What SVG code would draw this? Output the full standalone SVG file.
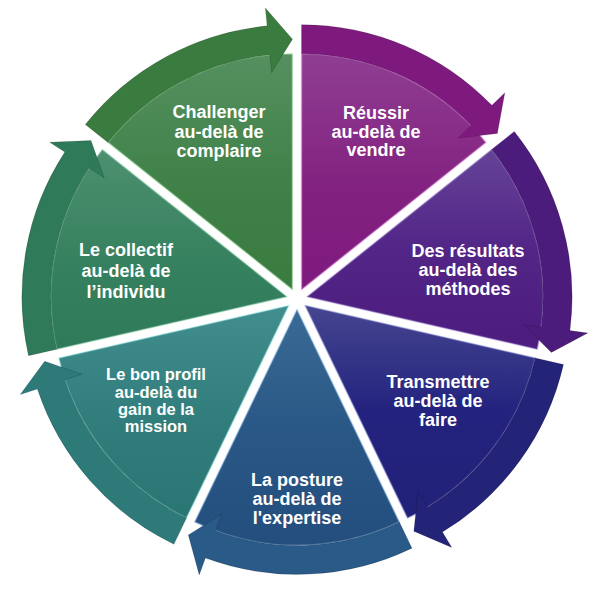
<svg xmlns="http://www.w3.org/2000/svg" width="600" height="600" viewBox="0 0 600 600">
<style>
.lbl{font-family:"Liberation Sans",Arial,sans-serif;font-weight:bold;font-size:18px;fill:#ffffff;text-anchor:middle}
.sm{font-size:16.5px}
.band{stroke:#000000;stroke-opacity:0.18;stroke-width:0.8;stroke-linejoin:miter}
.pie{stroke-width:1.6;stroke-opacity:0.45;stroke-linejoin:round}
</style>
<defs>
<linearGradient id="g0" x1="0" y1="0" x2="0" y2="1"><stop offset="0" stop-color="#8F3E93"/><stop offset="0.6" stop-color="#82207F"/><stop offset="1" stop-color="#7E1A7E"/></linearGradient>
<linearGradient id="g1" x1="0" y1="0" x2="0" y2="1"><stop offset="0" stop-color="#654397"/><stop offset="0.5" stop-color="#522587"/><stop offset="1" stop-color="#4C1C7E"/></linearGradient>
<linearGradient id="g2" x1="0" y1="0" x2="0" y2="1"><stop offset="0" stop-color="#45458F"/><stop offset="0.5" stop-color="#23237F"/><stop offset="1" stop-color="#212178"/></linearGradient>
<linearGradient id="g3" x1="0" y1="0" x2="0" y2="1"><stop offset="0" stop-color="#3A6A96"/><stop offset="0.5" stop-color="#2A5886"/><stop offset="1" stop-color="#234E7E"/></linearGradient>
<linearGradient id="g4" x1="0" y1="0" x2="0" y2="1"><stop offset="0" stop-color="#428D8D"/><stop offset="0.6" stop-color="#2F7C7B"/><stop offset="1" stop-color="#2A7674"/></linearGradient>
<linearGradient id="g5" x1="0" y1="0" x2="0" y2="1"><stop offset="0" stop-color="#4C9070"/><stop offset="0.6" stop-color="#35805E"/><stop offset="1" stop-color="#2F7A58"/></linearGradient>
<linearGradient id="g6" x1="0" y1="0" x2="0" y2="1"><stop offset="0" stop-color="#559060"/><stop offset="0.6" stop-color="#3E8046"/><stop offset="1" stop-color="#3A7B40"/></linearGradient>
</defs>

<g id="node-reussir">
<path class="pie" fill="url(#g0)" stroke="#E59BE5" d="M301.51 289.63 L301.51 53.63 A236 236 0 0 1 486.02 142.49 Z"/>
<path class="band" fill="#7E1A7E" d="M301.51 24.63 A265 265 0 0 1 491.90 105.31 L504.84 92.79 L497.36 133.45 L458.14 138.00 L471.07 125.48 A236 236 0 0 0 301.51 53.63 Z"/>
<text class="lbl" x="376" y="118.5">Réussir</text>
<text class="lbl" x="376" y="137.5">au-delà de</text>
<text class="lbl" x="376" y="156">vendre</text>
</g>

<g id="node-resultats">
<path class="pie" fill="url(#g1)" stroke="#A58CD0" d="M307.14 296.69 L491.65 149.55 A236 236 0 0 1 537.22 349.20 Z"/>
<path class="band" fill="#4C1C7C" d="M514.32 131.47 A265 265 0 0 1 569.96 330.62 L587.81 332.93 L551.36 352.43 L523.35 324.60 L541.20 326.91 A236 236 0 0 0 491.65 149.55 Z"/>
<text class="lbl" x="468" y="257">Des résultats</text>
<text class="lbl" x="468" y="276">au-delà des</text>
<text class="lbl" x="468" y="295">méthodes</text>
</g>

<g id="node-transmettre">
<path class="pie" fill="url(#g2)" stroke="#8C8CD2" d="M305.13 305.48 L535.21 357.99 A236 236 0 0 1 407.53 518.11 Z"/>
<path class="band" fill="#232378" d="M563.49 364.45 A265 265 0 0 1 442.46 532.12 L451.79 547.51 L413.82 531.17 L418.11 491.92 L427.43 507.32 A236 236 0 0 0 535.21 357.99 Z"/>
<text class="lbl" x="438" y="388">Transmettre</text>
<text class="lbl" x="438" y="407">au-delà de</text>
<text class="lbl" x="438" y="425.5">faire</text>
</g>

<g id="node-posture">
<path class="pie" fill="url(#g3)" stroke="#9CC4EA" d="M297 309.4 L399.40 522.03 A236 236 0 0 1 194.60 522.03 Z"/>
<path class="band" fill="#2A5A87" d="M411.98 548.16 A265 265 0 0 1 205.43 558.08 L199.22 574.97 L188.31 535.09 L221.67 513.97 L215.45 530.86 A236 236 0 0 0 399.40 522.03 Z"/>
<text class="lbl" x="297" y="486">La posture</text>
<text class="lbl" x="297" y="505">au-delà de</text>
<text class="lbl" x="297" y="523.5">l'expertise</text>
</g>

<g id="node-profil">
<path class="pie" fill="url(#g4)" stroke="#A2F0EC" d="M288.87 305.48 L186.47 518.11 A236 236 0 0 1 58.79 357.99 Z"/>
<path class="band" fill="#2D7A79" d="M173.89 544.24 A265 265 0 0 1 37.35 388.94 L20.27 394.61 L44.65 361.22 L81.96 374.14 L64.88 379.81 A236 236 0 0 0 186.47 518.11 Z"/>
<text class="lbl sm" x="156" y="380">Le bon profil</text>
<text class="lbl sm" x="156" y="397.5">au-delà du</text>
<text class="lbl sm" x="156" y="415">gain de la</text>
<text class="lbl sm" x="156" y="432">mission</text>
</g>

<g id="node-collectif">
<path class="pie" fill="url(#g5)" stroke="#9AD6B6" d="M286.86 296.69 L56.78 349.20 A236 236 0 0 1 102.35 149.55 Z"/>
<path class="band" fill="#2F7B59" d="M28.50 355.66 A265 265 0 0 1 64.79 152.08 L49.71 142.26 L91.01 140.51 L104.18 177.73 L89.09 167.91 A236 236 0 0 0 56.78 349.20 Z"/>
<text class="lbl" x="126" y="256">Le collectif</text>
<text class="lbl" x="126" y="277">au-delà de</text>
<text class="lbl" x="126" y="297.5">l’individu</text>
</g>

<g id="node-challenger">
<path class="pie" fill="url(#g6)" stroke="#B4EAB4" d="M292.49 289.63 L107.98 142.49 A236 236 0 0 1 292.49 53.63 Z"/>
<path class="band" fill="#3A7B3F" d="M85.31 124.41 A265 265 0 0 1 267.09 25.85 L265.37 7.93 L292.49 39.13 L271.59 72.63 L269.87 54.72 A236 236 0 0 0 107.98 142.49 Z"/>
<text class="lbl" x="219" y="118">Challenger</text>
<text class="lbl" x="219" y="137.5">au-delà de</text>
<text class="lbl" x="219" y="157">complaire</text>
</g>

<g id="connectors"></g>
</svg>
